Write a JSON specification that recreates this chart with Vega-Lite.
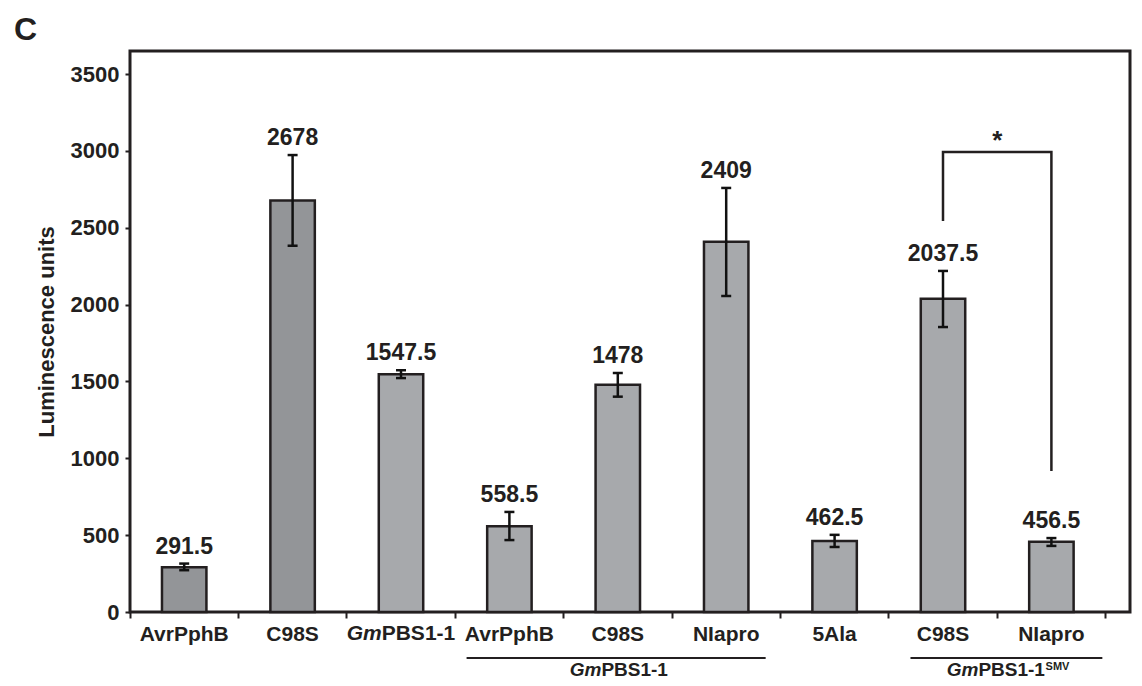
{
  "$schema": "https://vega.github.io/schema/vega-lite/v6.json",
  "width": 1000,
  "height": 561,
  "autosize": "none",
  "padding": {"left": 130, "top": 51, "right": 12, "bottom": 74},
  "background": "#ffffff",
  "title": {"text": "C", "anchor": "start", "frame": "group", "dx": -116, "dy": 33, "offset": 12, "fontSize": 32, "fontWeight": "bold", "color": "#231f20", "font": "Liberation Sans", "baseline": "alphabetic"},
  "config": {
    "font": "Liberation Sans",
    "view": {"stroke": "#231f20", "strokeWidth": 3},
    "axisX": {"domain": false, "grid": false, "bandPosition": 0, "tickSize": 6, "tickWidth": 2, "tickColor": "#231f20", "labelPadding": 22, "labelBaseline": "alphabetic", "labelFontSize": 21, "labelFontWeight": "bold", "labelColor": "#231f20", "labelAngle": 0, "labelOverlap": false, "labelFlush": false, "labelBound": false},
    "axisY": {"domain": false, "grid": false, "tickSize": 5, "tickWidth": 2, "tickColor": "#231f20", "labelPadding": 6, "labelFontSize": 22, "labelFontWeight": "bold", "labelColor": "#231f20", "titleFontSize": 22, "titleFontWeight": "bold", "titleColor": "#231f20", "titlePadding": 12}
  },
  "datasets": {
    "bars": [
      {"cat": "AvrPphB", "kind": "control", "value": 291.5, "lo": 272, "hi": 315},
      {"cat": "C98S", "kind": "control", "value": 2678, "lo": 2383, "hi": 2973},
      {"cat": "GmPBS1-1", "kind": "test", "value": 1547.5, "lo": 1522, "hi": 1573},
      {"cat": "GmPBS1-1 AvrPphB", "kind": "test", "value": 558.5, "lo": 468, "hi": 651},
      {"cat": "GmPBS1-1 C98S", "kind": "test", "value": 1478, "lo": 1401, "hi": 1555},
      {"cat": "GmPBS1-1 NIapro", "kind": "test", "value": 2409, "lo": 2056, "hi": 2759},
      {"cat": "5Ala", "kind": "test", "value": 462.5, "lo": 423, "hi": 502},
      {"cat": "GmPBS1-1SMV C98S", "kind": "test", "value": 2037.5, "lo": 1854, "hi": 2219},
      {"cat": "GmPBS1-1SMV NIapro", "kind": "test", "value": 456.5, "lo": 430, "hi": 481}
    ],
    "bracket": [
      {"cat": "GmPBS1-1SMV C98S", "v": 2544, "k": 1},
      {"cat": "GmPBS1-1SMV C98S", "v": 2993, "k": 2},
      {"cat": "GmPBS1-1SMV NIapro", "v": 2993, "k": 3},
      {"cat": "GmPBS1-1SMV NIapro", "v": 917, "k": 4}
    ]
  },
  "encoding": {
    "x": {
      "field": "cat", "type": "nominal", "sort": null, "title": null,
      "scale": {"domain": ["AvrPphB", "C98S", "GmPBS1-1", "GmPBS1-1 AvrPphB", "GmPBS1-1 C98S", "GmPBS1-1 NIapro", "5Ala", "GmPBS1-1SMV C98S", "GmPBS1-1SMV NIapro", "end"], "range": [0, 1084], "paddingInner": 0, "paddingOuter": 0},
      "axis": {"labelExpr": "datum.value == 'end' || datum.value == 'GmPBS1-1' ? '' : (indexof(datum.value, ' ') > 0 ? split(datum.value, ' ')[1] : datum.value)"}
    }
  },
  "layer": [
    {
      "data": {"name": "bars"},
      "mark": {"type": "bar", "width": {"band": 0.41}, "stroke": "#231f20", "strokeWidth": 2.5},
      "encoding": {
        "y": {"field": "value", "type": "quantitative", "title": "Luminescence units", "scale": {"domain": [0, 3650], "nice": false}, "axis": {"values": [0, 500, 1000, 1500, 2000, 2500, 3000, 3500], "format": "d"}},
        "color": {"field": "kind", "type": "nominal", "scale": {"domain": ["control", "test"], "range": ["#939598", "#a7a9ac"]}, "legend": null}
      }
    },
    {
      "data": {"name": "bars"},
      "mark": {"type": "rule", "strokeWidth": 2.5, "color": "#111111"},
      "encoding": {
        "y": {"field": "lo", "type": "quantitative", "title": "Luminescence units", "scale": {"domain": [0, 3650], "nice": false}, "axis": {"values": [0, 500, 1000, 1500, 2000, 2500, 3000, 3500], "format": "d"}},
        "y2": {"field": "hi"}
      }
    },
    {
      "data": {"name": "bars"},
      "mark": {"type": "tick", "size": 10, "thickness": 2.5, "color": "#111111", "opacity": 1, "orient": "horizontal"},
      "encoding": {
        "y": {"field": "lo", "type": "quantitative", "title": "Luminescence units", "scale": {"domain": [0, 3650], "nice": false}, "axis": {"values": [0, 500, 1000, 1500, 2000, 2500, 3000, 3500], "format": "d"}}
      }
    },
    {
      "data": {"name": "bars"},
      "mark": {"type": "tick", "size": 10, "thickness": 2.5, "color": "#111111", "opacity": 1, "orient": "horizontal"},
      "encoding": {
        "y": {"field": "hi", "type": "quantitative", "title": "Luminescence units", "scale": {"domain": [0, 3650], "nice": false}, "axis": {"values": [0, 500, 1000, 1500, 2000, 2500, 3000, 3500], "format": "d"}}
      }
    },
    {
      "data": {"name": "bars"},
      "mark": {"type": "text", "baseline": "alphabetic", "dy": -10, "fontSize": 23, "fontWeight": "bold", "color": "#231f20", "font": "Liberation Sans"},
      "encoding": {
        "y": {"field": "hi", "type": "quantitative", "title": "Luminescence units", "scale": {"domain": [0, 3650], "nice": false}, "axis": {"values": [0, 500, 1000, 1500, 2000, 2500, 3000, 3500], "format": "d"}},
        "text": {"field": "value", "type": "nominal"}
      }
    },
    {
      "data": {"name": "bracket"},
      "mark": {"type": "line", "strokeWidth": 2.5, "color": "#231f20"},
      "encoding": {
        "y": {"field": "v", "type": "quantitative", "title": "Luminescence units", "scale": {"domain": [0, 3650], "nice": false}, "axis": {"values": [0, 500, 1000, 1500, 2000, 2500, 3000, 3500], "format": "d"}},
        "order": {"field": "k", "type": "quantitative"}
      }
    },
    {
      "data": {"values": [{"cat": "GmPBS1-1SMV C98S", "v": 2993, "t": "*"}]},
      "mark": {"type": "text", "baseline": "alphabetic", "dx": 54.2, "dy": -3, "fontSize": 26, "fontWeight": "bold", "color": "#231f20", "font": "Liberation Sans"},
      "encoding": {
        "y": {"field": "v", "type": "quantitative", "title": "Luminescence units", "scale": {"domain": [0, 3650], "nice": false}, "axis": {"values": [0, 500, 1000, 1500, 2000, 2500, 3000, 3500], "format": "d"}},
        "text": {"field": "t", "type": "nominal"}
      }
    },
    {
      "data": {"values": [{"cat": "GmPBS1-1 AvrPphB", "cat2": "GmPBS1-1 NIapro", "v": -299}]},
      "mark": {"type": "rule", "strokeWidth": 2, "color": "#231f20"},
      "encoding": {
        "x": {"field": "cat", "type": "nominal", "bandPosition": 0.105},
        "x2": {"field": "cat2", "bandPosition": 0.864},
        "y": {"field": "v", "type": "quantitative", "title": "Luminescence units", "scale": {"domain": [0, 3650], "nice": false}, "axis": {"values": [0, 500, 1000, 1500, 2000, 2500, 3000, 3500], "format": "d"}}
      }
    },
    {
      "data": {"values": [{"cat": "GmPBS1-1SMV C98S", "cat2": "GmPBS1-1SMV NIapro", "v": -299}]},
      "mark": {"type": "rule", "strokeWidth": 2, "color": "#231f20"},
      "encoding": {
        "x": {"field": "cat", "type": "nominal", "bandPosition": 0.2},
        "x2": {"field": "cat2", "bandPosition": 0.97},
        "y": {"field": "v", "type": "quantitative", "title": "Luminescence units", "scale": {"domain": [0, 3650], "nice": false}, "axis": {"values": [0, 500, 1000, 1500, 2000, 2500, 3000, 3500], "format": "d"}}
      }
    },
    {
      "data": {"values": [{"cat": "GmPBS1-1", "v": -182, "t": "Gm"}]},
      "mark": {"type": "text", "baseline": "alphabetic", "align": "right", "dx": -19.3, "fontSize": 21, "fontWeight": "bold", "fontStyle": "italic", "color": "#231f20", "font": "Liberation Sans"},
      "encoding": {
        "y": {"field": "v", "type": "quantitative", "title": "Luminescence units", "scale": {"domain": [0, 3650], "nice": false}, "axis": {"values": [0, 500, 1000, 1500, 2000, 2500, 3000, 3500], "format": "d"}},
        "text": {"field": "t", "type": "nominal"}
      }
    },
    {
      "data": {"values": [{"cat": "GmPBS1-1", "v": -182, "t": "PBS1-1"}]},
      "mark": {"type": "text", "baseline": "alphabetic", "align": "left", "dx": -19.3, "fontSize": 21, "fontWeight": "bold", "color": "#231f20", "font": "Liberation Sans"},
      "encoding": {
        "y": {"field": "v", "type": "quantitative", "title": "Luminescence units", "scale": {"domain": [0, 3650], "nice": false}, "axis": {"values": [0, 500, 1000, 1500, 2000, 2500, 3000, 3500], "format": "d"}},
        "text": {"field": "t", "type": "nominal"}
      }
    },
    {
      "data": {"values": [{"cat": "GmPBS1-1 C98S", "v": -416, "t": "Gm"}]},
      "mark": {"type": "text", "baseline": "alphabetic", "align": "right", "dx": -16.4, "fontSize": 19, "fontWeight": "bold", "fontStyle": "italic", "color": "#231f20", "font": "Liberation Sans"},
      "encoding": {
        "y": {"field": "v", "type": "quantitative", "title": "Luminescence units", "scale": {"domain": [0, 3650], "nice": false}, "axis": {"values": [0, 500, 1000, 1500, 2000, 2500, 3000, 3500], "format": "d"}},
        "text": {"field": "t", "type": "nominal"}
      }
    },
    {
      "data": {"values": [{"cat": "GmPBS1-1 C98S", "v": -416, "t": "PBS1-1"}]},
      "mark": {"type": "text", "baseline": "alphabetic", "align": "left", "dx": -16.4, "fontSize": 19, "fontWeight": "bold", "color": "#231f20", "font": "Liberation Sans"},
      "encoding": {
        "y": {"field": "v", "type": "quantitative", "title": "Luminescence units", "scale": {"domain": [0, 3650], "nice": false}, "axis": {"values": [0, 500, 1000, 1500, 2000, 2500, 3000, 3500], "format": "d"}},
        "text": {"field": "t", "type": "nominal"}
      }
    },
    {
      "data": {"values": [{"cat": "GmPBS1-1SMV C98S", "v": -416, "t": "Gm"}]},
      "mark": {"type": "text", "baseline": "alphabetic", "align": "right", "dx": 35.4, "fontSize": 19, "fontWeight": "bold", "fontStyle": "italic", "color": "#231f20", "font": "Liberation Sans"},
      "encoding": {
        "y": {"field": "v", "type": "quantitative", "title": "Luminescence units", "scale": {"domain": [0, 3650], "nice": false}, "axis": {"values": [0, 500, 1000, 1500, 2000, 2500, 3000, 3500], "format": "d"}},
        "text": {"field": "t", "type": "nominal"}
      }
    },
    {
      "data": {"values": [{"cat": "GmPBS1-1SMV C98S", "v": -416, "t": "PBS1-1"}]},
      "mark": {"type": "text", "baseline": "alphabetic", "align": "left", "dx": 35.4, "fontSize": 19, "fontWeight": "bold", "color": "#231f20", "font": "Liberation Sans"},
      "encoding": {
        "y": {"field": "v", "type": "quantitative", "title": "Luminescence units", "scale": {"domain": [0, 3650], "nice": false}, "axis": {"values": [0, 500, 1000, 1500, 2000, 2500, 3000, 3500], "format": "d"}},
        "text": {"field": "t", "type": "nominal"}
      }
    },
    {
      "data": {"values": [{"cat": "GmPBS1-1SMV C98S", "v": -377, "t": "SMV"}]},
      "mark": {"type": "text", "baseline": "alphabetic", "align": "left", "dx": 102.6, "fontSize": 11, "fontWeight": "bold", "color": "#231f20", "font": "Liberation Sans"},
      "encoding": {
        "y": {"field": "v", "type": "quantitative", "title": "Luminescence units", "scale": {"domain": [0, 3650], "nice": false}, "axis": {"values": [0, 500, 1000, 1500, 2000, 2500, 3000, 3500], "format": "d"}},
        "text": {"field": "t", "type": "nominal"}
      }
    }
  ]
}
